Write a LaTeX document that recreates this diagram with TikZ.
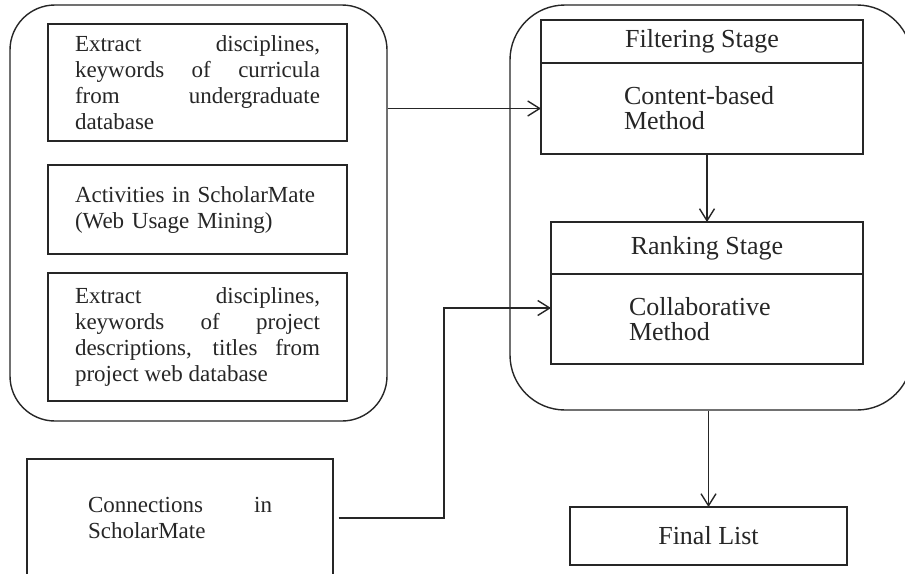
\documentclass[tikz,border=0pt]{standalone}
\usepackage{fontspec}
\setmainfont{Liberation Serif}
\usetikzlibrary{arrows.meta,positioning}

\begin{document}
\begin{tikzpicture}[x=1pt, y=-1pt, line width=1.4pt, color=black!85,
    >={Straight Barb[length=12pt,width=15pt]},
    hull/.style={draw, rounded corners=#1},
    srcbox/.style={draw, minimum width=299, text width=245, font=\fontsize{23}{26}\selectfont},
    stagebox/.style={draw, outer sep=0pt, minimum width=#1, font=\fontsize{26}{25}\selectfont}]
            \useasboundingbox[fill=white] (0,0) rectangle (905,573);
            \node[hull=45, minimum width=377, minimum height=416] (inputs) at (198.5,213) {};
            \node[hull=55, minimum width=402, minimum height=405] (stages) at (711,207.5) {};
            \node[srcbox, minimum height=117, align=justify] (curricula) at (197.5,82.5) {Extract disciplines,\linebreak keywords of curricula\linebreak from undergraduate\linebreak database};
            \node[srcbox, minimum height=89, align=left] (activities) at (197.5,209.5) {Activities in ScholarMate\\(Web Usage Mining)};
            \node[srcbox, minimum height=128, align=justify] (projects) at (197.5,337) {Extract disciplines,\linebreak keywords of project\linebreak descriptions, titles from\linebreak project web database};
            \node[srcbox, minimum width=306, minimum height=118, text width=184, align=justify] (connections) at (180,518) {Connections in\linebreak ScholarMate};
            \node[stagebox=322, minimum height=43] (filthead) at (702,41.5) {Filtering Stage};
            \node[stagebox=322, minimum height=91, text width=156, align=left, below=0pt of filthead] (filtbody) {Content-based\\Method};
            \node[stagebox=312, minimum height=52] (rankhead) at (707,248) {Ranking Stage};
            \node[stagebox=312, minimum height=90, text width=156, align=left, below=0pt of rankhead] (rankbody) {Collaborative\\Method};
            \node[stagebox=277, minimum height=58] (final) at (708.5,536) {Final List};
            \coordinate (bend) at (444,308);
            \draw[->] (filtbody.west -| inputs.east) -- (filtbody.west);
            \draw[->] (filtbody.south -| rankhead.north) -- (rankhead.north);
            \draw[->, shorten <=5pt] (connections.east) -| (bend) -- (bend -| rankbody.west);
            \draw[->] (stages.south -| final.north) -- (final.north);
        \end{tikzpicture}
\end{document}
